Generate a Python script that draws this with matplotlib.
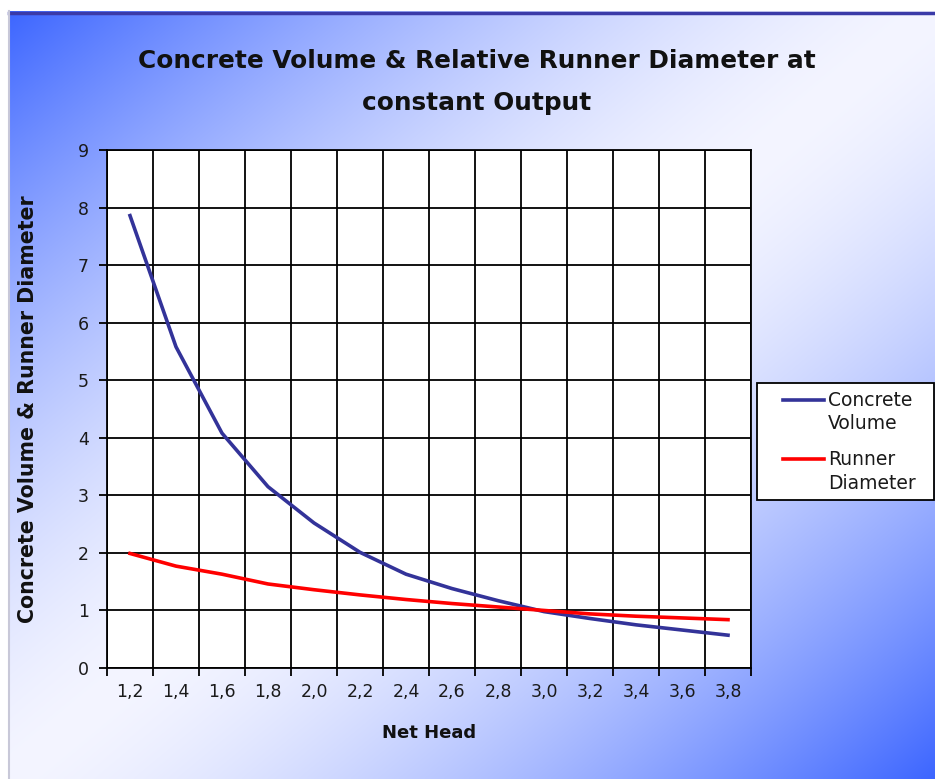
import numpy as np
import matplotlib
matplotlib.use("Agg")
import matplotlib.pyplot as plt
from matplotlib.colors import to_rgb
from matplotlib.patches import Rectangle
from matplotlib.legend_handler import HandlerLine2D

# Net head categories and the two series
net_head = ["1,2", "1,4", "1,6", "1,8", "2,0", "2,2", "2,4",
            "2,6", "2,8", "3,0", "3,2", "3,4", "3,6", "3,8"]
concrete_volume = [7.86, 5.58, 4.08, 3.15, 2.52, 2.01, 1.63,
                   1.38, 1.17, 0.98, 0.86, 0.75, 0.66, 0.57]
runner_diameter = [1.99, 1.77, 1.63, 1.46, 1.36, 1.27, 1.19,
                   1.12, 1.06, 1.00, 0.94, 0.90, 0.87, 0.84]
y_ticks = list(range(0, 10))

W, H = 935, 779
fig = plt.figure(figsize=(W / 100, H / 100), dpi=100)
fig.patch.set_facecolor("white")

# Chart-area background: diagonal blue-white-blue gradient
x0, y0 = 9, 11
bg = fig.add_axes([x0 / W, 0, 1 - x0 / W, 1 - y0 / H])
bg.set_axis_off()
nx, ny = 400, 340
gx, gy = np.meshgrid(np.linspace(0, 1, nx), np.linspace(0, 1, ny))
t = (gx + gy) / 2.0
s = np.abs(2 * t - 1) ** 1.5
blue = np.array(to_rgb("#3d66ff"))
white = np.array(to_rgb("#f4f5ff"))
img = white[None, None, :] * (1 - s[..., None]) + blue[None, None, :] * s[..., None]
bg.imshow(img, aspect="auto", extent=[0, 1, 1, 0], interpolation="bilinear")
bg.set_xlim(0, 1)
bg.set_ylim(1, 0)
bg.plot([0, 1], [0.998, 0.998], color="#3a3aa8", lw=2.5, transform=bg.transAxes, clip_on=False)
bg.plot([0.0005, 0.0005], [0, 1], color="#c8c8d8", lw=1.5, transform=bg.transAxes, clip_on=False)

# Plot area
L, R, T, B = 107, 751, 150, 668
ax = fig.add_axes([L / W, 1 - B / H, (R - L) / W, (B - T) / H])
ax.set_facecolor("white")
x = np.arange(len(net_head))
ax.plot(x, concrete_volume, color="#333399", lw=2.6, label="Concrete\nVolume", zorder=4)
ax.plot(x, runner_diameter, color="#ff0000", lw=2.6, label="Runner\nDiameter", zorder=4)

ax.set_xlim(-0.5, len(net_head) - 0.5)
ax.set_ylim(0, 9)
ax.set_yticks(y_ticks)
ax.set_xticks(np.arange(len(net_head) + 1) - 0.5)
ax.set_xticklabels([])
ax.set_xticks(x, minor=True)
ax.set_xticklabels(net_head, minor=True)
ax.tick_params(axis="x", which="minor", length=0, pad=11, labelsize=12.5, labelcolor="#1a1a1a")
ax.tick_params(axis="x", which="major", length=6, width=1.3, direction="out")
ax.tick_params(axis="y", length=6, width=1.3, direction="out", pad=7, labelsize=12.5, labelcolor="#1a1a1a")
ax.grid(True, which="major", color="black", lw=1.3)
ax.set_axisbelow(True)
for sp in ax.spines.values():
    sp.set_color("black")
    sp.set_linewidth(1.3)

ax.set_xlabel("Net Head", fontsize=13, fontweight="bold", labelpad=16, color="#111111")
ax.set_ylabel("Concrete Volume & Runner Diameter", fontsize=14.8, fontweight="bold",
              labelpad=29, color="#111111")

fig.text(477 / W, 1 - 82 / H, "Concrete Volume & Relative Runner Diameter at\nconstant Output",
         ha="center", va="center", fontsize=17.8, fontweight="bold", linespacing=1.9,
         color="#111111")


class FirstLineHandler(HandlerLine2D):
    """Legend line drawn level with the first line of a two-line label."""

    def __init__(self, dy, **kw):
        super().__init__(**kw)
        self.dy = dy

    def create_artists(self, legend, orig_handle, xdescent, ydescent,
                       width, height, fontsize, trans):
        arts = super().create_artists(legend, orig_handle, xdescent, ydescent,
                                      width, height, fontsize, trans)
        for a in arts:
            a.set_ydata(np.asarray(a.get_ydata(), dtype=float) + self.dy)
        return arts


# Legend box with the entries set inside it
fig.patches.append(Rectangle((757 / W, 1 - 500 / H), (W - 1 - 757) / W, 117 / H,
                             transform=fig.transFigure, facecolor="white",
                             edgecolor="black", lw=1.3, zorder=5))
handles, labels = ax.get_legend_handles_labels()
leg = fig.legend(handles, labels, loc="upper left", bbox_to_anchor=(783 / W, 1 - 391 / H),
                 frameon=False, fontsize=13.5, handlelength=2.2,
                 handletextpad=0.2, borderpad=0, labelspacing=0.9,
                 borderaxespad=0,
                 handler_map={h: FirstLineHandler(dy=9.5) for h in handles})
leg.set_zorder(6)
for txt in leg.get_texts():
    txt.set_color("#1a1a1a")
    txt.set_linespacing(1.3)

fig.savefig("out.png", dpi=100, facecolor=fig.get_facecolor())
